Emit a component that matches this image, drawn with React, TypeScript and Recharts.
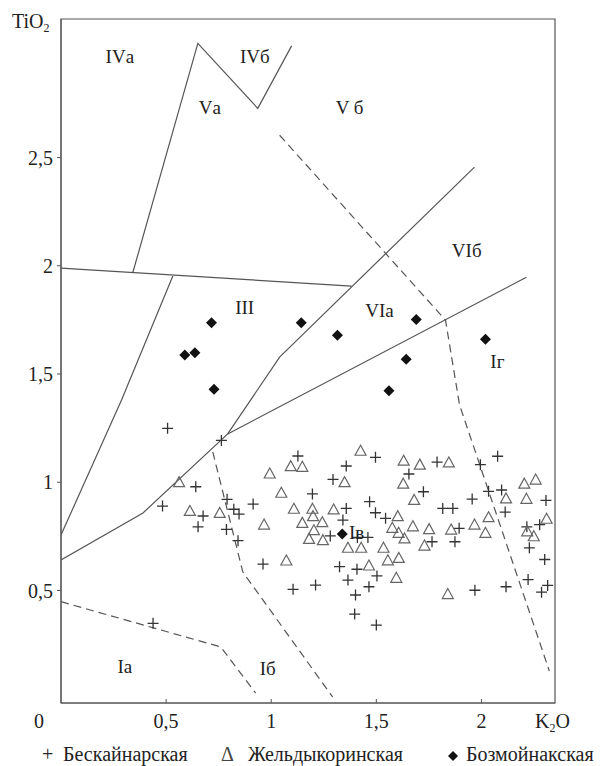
import React from 'react';
import {
  ScatterChart,
  Scatter,
  XAxis,
  YAxis,
  ReferenceArea,
  Label } from
'recharts';

// K2O (x) vs TiO2 (y), wt.%
const beskainarskaya = [
{ x: 0.507, y: 1.249 }, { x: 0.763, y: 1.193 }, { x: 0.438, y: 0.348 }, { x: 0.483, y: 0.89 },
{ x: 0.641, y: 0.979 }, { x: 0.676, y: 0.844 }, { x: 0.652, y: 0.794 }, { x: 0.79, y: 0.921 },
{ x: 0.822, y: 0.875 }, { x: 0.847, y: 0.853 }, { x: 0.787, y: 0.782 }, { x: 0.842, y: 0.73 },
{ x: 0.914, y: 0.899 }, { x: 0.961, y: 0.622 }, { x: 1.127, y: 1.121 }, { x: 1.196, y: 0.946 },
{ x: 1.104, y: 0.505 }, { x: 1.211, y: 0.525 }, { x: 1.357, y: 1.075 }, { x: 1.294, y: 1.013 },
{ x: 1.496, y: 1.115 }, { x: 1.655, y: 1.038 }, { x: 1.357, y: 0.879 }, { x: 1.468, y: 0.91 },
{ x: 1.496, y: 0.859 }, { x: 1.544, y: 0.833 }, { x: 1.341, y: 0.825 }, { x: 1.281, y: 0.752 },
{ x: 1.41, y: 0.745 }, { x: 1.46, y: 0.745 }, { x: 1.325, y: 0.61 }, { x: 1.408, y: 0.598 },
{ x: 1.365, y: 0.548 }, { x: 1.503, y: 0.567 }, { x: 1.465, y: 0.517 }, { x: 1.401, y: 0.479 },
{ x: 1.397, y: 0.391 }, { x: 1.5, y: 0.34 }, { x: 1.789, y: 1.093 }, { x: 1.995, y: 1.081 },
{ x: 2.077, y: 1.12 }, { x: 1.724, y: 0.956 }, { x: 1.816, y: 0.879 }, { x: 1.864, y: 0.879 },
{ x: 1.956, y: 0.922 }, { x: 2.034, y: 0.958 }, { x: 2.096, y: 0.964 }, { x: 2.307, y: 0.916 },
{ x: 2.113, y: 0.862 }, { x: 1.894, y: 0.787 }, { x: 1.874, y: 0.725 }, { x: 1.765, y: 0.725 },
{ x: 2.216, y: 0.794 }, { x: 2.277, y: 0.804 }, { x: 2.228, y: 0.697 }, { x: 2.301, y: 0.643 },
{ x: 2.222, y: 0.55 }, { x: 2.117, y: 0.517 }, { x: 1.969, y: 0.501 }, { x: 2.286, y: 0.492 },
{ x: 2.315, y: 0.523 }];


const zheldykorinskaya = [
{ x: 0.562, y: 0.998 }, { x: 0.613, y: 0.865 }, { x: 0.755, y: 0.856 }, { x: 0.966, y: 0.802 },
{ x: 0.993, y: 1.038 }, { x: 1.048, y: 0.949 }, { x: 1.072, y: 0.636 }, { x: 1.093, y: 1.072 },
{ x: 1.148, y: 1.069 }, { x: 1.108, y: 0.875 }, { x: 1.196, y: 0.875 }, { x: 1.148, y: 0.81 },
{ x: 1.199, y: 0.841 }, { x: 1.243, y: 0.813 }, { x: 1.203, y: 0.776 }, { x: 1.18, y: 0.736 },
{ x: 1.246, y: 0.73 }, { x: 1.297, y: 0.872 }, { x: 1.349, y: 0.998 }, { x: 1.425, y: 1.143 },
{ x: 1.63, y: 1.097 }, { x: 1.707, y: 1.079 }, { x: 1.628, y: 0.991 }, { x: 1.602, y: 0.841 },
{ x: 1.68, y: 0.916 }, { x: 1.576, y: 0.787 }, { x: 1.606, y: 0.764 }, { x: 1.634, y: 0.738 },
{ x: 1.674, y: 0.794 }, { x: 1.365, y: 0.695 }, { x: 1.428, y: 0.695 }, { x: 1.534, y: 0.695 },
{ x: 1.555, y: 0.637 }, { x: 1.607, y: 0.648 }, { x: 1.465, y: 0.613 }, { x: 1.595, y: 0.556 },
{ x: 1.845, y: 1.089 }, { x: 1.751, y: 0.781 }, { x: 1.856, y: 0.779 }, { x: 1.729, y: 0.705 },
{ x: 1.84, y: 0.481 }, { x: 1.967, y: 0.802 }, { x: 2.019, y: 0.764 }, { x: 2.034, y: 0.836 },
{ x: 2.117, y: 0.923 }, { x: 2.204, y: 0.991 }, { x: 2.258, y: 1.01 }, { x: 2.214, y: 0.921 },
{ x: 2.218, y: 0.771 }, { x: 2.249, y: 0.748 }, { x: 2.31, y: 0.829 }];


const bozmoinakskaya = [
{ x: 0.716, y: 1.737 }, { x: 0.589, y: 1.588 }, { x: 0.637, y: 1.598 }, { x: 0.728, y: 1.429 },
{ x: 1.143, y: 1.737 }, { x: 1.315, y: 1.679 }, { x: 1.69, y: 1.752 }, { x: 1.642, y: 1.568 },
{ x: 1.56, y: 1.423 }, { x: 2.019, y: 1.66 }, { x: 1.338, y: 0.761 }];


// field boundaries
const solidLines = [
[{ x: 0, y: 1.989 }, { x: 1.382, y: 1.906 }],
[{ x: 0.342, y: 1.97 }, { x: 0.651, y: 3.027 }, { x: 0.936, y: 2.727 }, { x: 1.097, y: 3.016 }],
[{ x: 0, y: 0.756 }, { x: 0.288, y: 1.38 }, { x: 0.532, y: 1.953 }],
[{ x: 0, y: 0.641 }, { x: 0.39, y: 0.858 }, { x: 0.793, y: 1.223 }, { x: 1.04, y: 1.578 }, { x: 1.967, y: 2.456 }],
[{ x: 0.793, y: 1.223 }, { x: 2.214, y: 1.947 }]];


const dashedLines = [
[{ x: 1.04, y: 2.603 }, { x: 1.829, y: 1.749 }, { x: 1.896, y: 1.357 }, { x: 2.323, y: 0.128 }],
[{ x: 0, y: 0.448 }, { x: 0.76, y: 0.239 }, { x: 0.926, y: 0.026 }],
[{ x: 0.722, y: 1.14 }, { x: 0.865, y: 0.585 }, { x: 1.292, y: 0.008 }]];


const fieldLabels = [
{ x: 0.28, y: 2.969, t: 'IVа' }, { x: 0.922, y: 2.969, t: 'IVб' },
{ x: 0.708, y: 2.734, t: 'Vа' }, { x: 1.373, y: 2.734, t: 'V б' },
{ x: 1.93, y: 2.072, t: 'VIб' }, { x: 0.874, y: 1.81, t: 'III' },
{ x: 1.515, y: 1.795, t: 'VIа' }, { x: 2.076, y: 1.56, t: 'Iг' },
{ x: 1.406, y: 0.77, t: 'Iв' }, { x: 0.304, y: 0.151, t: 'Iа' },
{ x: 0.983, y: 0.142, t: 'Iб' }];


const xTicks = [0.5, 1, 1.5, 2];
const yTicks = [0.5, 1, 1.5, 2, 2.5];

const FONT = "'Liberation Serif', 'DejaVu Serif', serif";
const LINE = '#555';
const xDomain = [0, 2.35];
const yDomain = [-0.02, 3.14];

const fmt = (v: number) => String(v).replace('.', ',');

const CrossMark = ({ cx, cy }: any) =>
<path d={`M${cx - 5.5},${cy}H${cx + 5.5}M${cx},${cy - 5.5}V${cy + 5.5}`} stroke="#333" strokeWidth={1.3} fill="none" />;

const TriMark = ({ cx, cy }: any) =>
<polygon points={`${cx},${cy - 6} ${cx - 5.5},${cy + 4} ${cx + 5.5},${cy + 4}`} stroke="#666" strokeWidth={1.2} fill="none" />;

const DiamondMark = ({ cx, cy }: any) =>
<polygon points={`${cx},${cy - 5.5} ${cx + 5.5},${cy} ${cx},${cy + 5.5} ${cx - 5.5},${cy}`} fill="#111" />;

const NoMark = () => <g />;

const FieldText = ({ cx, cy, payload }: any) =>
<text x={cx} y={cy} dy="0.35em" textAnchor="middle" fontSize={19} fill="#222" style={{ fontFamily: FONT }}>
    {payload.t}
  </text>;


const tickStyle = { fontSize: 20, fill: '#222', style: { fontFamily: FONT } };

export default function App() {
  return (
    <div style={{ position: 'relative', width: 600, height: 758, fontFamily: FONT }}>
      <ScatterChart width={600} height={758} margin={{ top: 11, right: 53, bottom: 0, left: 0 }} style={{ fontFamily: FONT }}>
        <XAxis
          type="number"
          dataKey="x"
          domain={xDomain}
          ticks={xTicks}
          allowDataOverflow
          height={63}
          tickSize={-4}
          tickMargin={15}
          tickFormatter={fmt}
          stroke={LINE}
          tick={tickStyle}>
          
          <Label
            content={({ viewBox }: any) =>
            <g fontSize={20} fill="#222" style={{ fontFamily: FONT }}>
                <text x={viewBox.x - 27} y={viewBox.y + 25}>0</text>
                <text x={viewBox.x + 474} y={viewBox.y + 25}>
                  K<tspan fontSize={12} dy={4}>2</tspan><tspan dy={-4}>O</tspan>
                </text>
              </g>
            } />
          
        </XAxis>
        <YAxis
          type="number"
          dataKey="y"
          domain={yDomain}
          ticks={yTicks}
          allowDataOverflow
          width={53}
          tickSize={4}
          tickMargin={4}
          tickFormatter={fmt}
          stroke={LINE}
          tick={tickStyle}>
          
          <Label
            content={({ viewBox }: any) =>
            <text x={viewBox.x + 4} y={viewBox.y + 9} fontSize={20} fill="#222" style={{ fontFamily: FONT }}>
                TiO<tspan fontSize={12} dy={4}>2</tspan>
              </text>
            } />
          
        </YAxis>
        <ReferenceArea
          x1={xDomain[0]}
          x2={xDomain[1]}
          y1={yDomain[0]}
          y2={yDomain[1]}
          fill="none"
          stroke={LINE}
          strokeWidth={1.2}
          ifOverflow="visible" />
        
        {solidLines.map((seg, i) =>
        <Scatter
          key={`s${i}`}
          data={seg}
          line={{ stroke: LINE, strokeWidth: 1.2 }}
          shape={NoMark}
          legendType="none"
          isAnimationActive={false} />

        )}
        {dashedLines.map((seg, i) =>
        <Scatter
          key={`d${i}`}
          data={seg}
          line={{ stroke: LINE, strokeWidth: 1.2, strokeDasharray: '8 5' }}
          shape={NoMark}
          legendType="none"
          isAnimationActive={false} />

        )}
        <Scatter name="Бескайнарская" data={beskainarskaya} shape={CrossMark} isAnimationActive={false} />
        <Scatter name="Жельдыкоринская" data={zheldykorinskaya} shape={TriMark} isAnimationActive={false} />
        <Scatter name="Бозмойнакская" data={bozmoinakskaya} shape={DiamondMark} isAnimationActive={false} />
        <Scatter data={fieldLabels} shape={FieldText} legendType="none" isAnimationActive={false} />
      </ScatterChart>

      <div style={{ position: 'absolute', top: 736, left: 0, width: 600, height: 22, fontSize: 20, lineHeight: '20px', color: '#222' }}>
        <span style={{ position: 'absolute', left: 34 }}>+</span>
        <span style={{ position: 'absolute', left: 55 }}>Бескайнарская</span>
        <span style={{ position: 'absolute', left: 213, color: '#444' }}>Δ</span>
        <span style={{ position: 'absolute', left: 240 }}>Жельдыкоринская</span>
        <svg style={{ position: 'absolute', left: 439, top: 6 }} width={12} height={12}>
          <polygon points="6,1 11,6 6,11 1,6" fill="#111" />
        </svg>
        <span style={{ position: 'absolute', left: 458 }}>Бозмойнакская</span>
      </div>
    </div>);

}
